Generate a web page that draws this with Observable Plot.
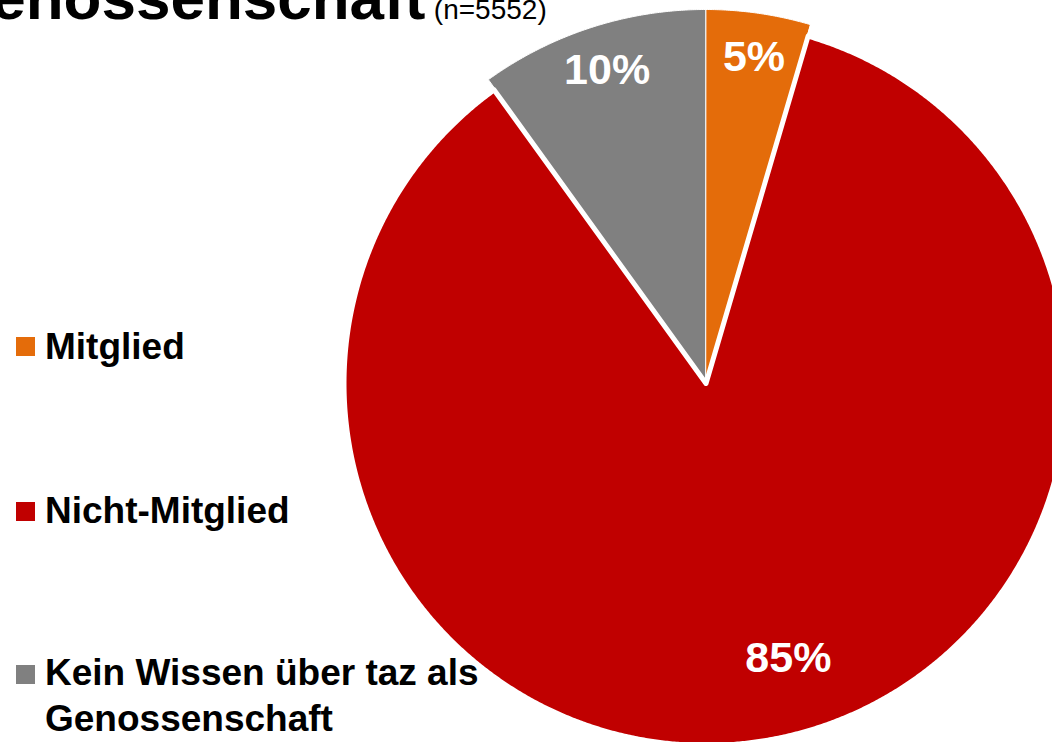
<!DOCTYPE html>
<html>
<head>
<meta charset="utf-8">
<script src="https://cdn.jsdelivr.net/npm/d3@7"></script>
<script src="https://cdn.jsdelivr.net/npm/@observablehq/plot@0.6"></script>
<style>
  html, body { margin: 0; padding: 0; background: #fff; overflow: hidden; }
  body { width: 1052px; height: 742px; position: relative; font-family: "Liberation Sans", Arial, sans-serif; }
  #chart { position: absolute; left: 0; top: 0; }
  #title { position: absolute; left: -57px; top: -33px; white-space: nowrap; line-height: 62px; color: #000; }
  #title .big { font-size: 62px; font-weight: bold; }
  #title .small { font-size: 28px; font-weight: normal; margin-left: 4px; }
  .leg { position: absolute; left: 45px; font-size: 37px; font-weight: bold; line-height: 46px; color: #000; white-space: nowrap; }
  .sw { position: absolute; left: 16px; width: 19px; height: 19px; }
</style>
</head>
<body>
<div id="chart"></div>
<div id="title"><span class="big">Genossenschaft</span> <span class="small">(n=5552)</span></div>
<div id="legend"></div>
<script>
// ---- data ----
const categories = ["Mitglied", "Nicht-Mitglied", "Kein Wissen über taz als Genossenschaft"];
const legendLines = [["Mitglied"], ["Nicht-Mitglied"], ["Kein Wissen über taz als", "Genossenschaft"]];
const shares = [4.55, 85.5, 9.95];
const pctLabels = ["5%", "85%", "10%"];
const colors = ["#E46C0A", "#C00000", "#808080"];

// ---- layout ----
const W = 1052, H = 742;
const cx = 705, cy = 380, R = 371;          // outer radius of small slices (px)
const redR = 362 / R;                       // main slice slightly smaller
const redShift = 3 / R;                     // main slice slightly exploded

const arcs = d3.pie().sort(null).value(d => d)(shares);

function slicePoints(a, i) {
  const r = i === 1 ? redR : 1;
  const mid = (a.startAngle + a.endAngle) / 2;
  const ox = i === 1 ? redShift * Math.sin(mid) : 0;
  const oy = i === 1 ? redShift * Math.cos(mid) : 0;
  const n = Math.max(4, Math.ceil((a.endAngle - a.startAngle) / 0.005));
  const pts = [{x: ox, y: oy, cat: categories[i]}];
  for (let k = 0; k <= n; k++) {
    const t = a.startAngle + (a.endAngle - a.startAngle) * k / n;
    pts.push({x: ox + r * Math.sin(t), y: oy + r * Math.cos(t), cat: categories[i]});
  }
  return pts;
}

const labelData = arcs.map((a, i) => {
  const mid = (a.startAngle + a.endAngle) / 2;
  const f = i === 1 ? 0.78 : 0.88;
  return {x: f * Math.sin(mid), y: f * Math.cos(mid), label: pctLabels[i], i};
});

const smallMarks = [0, 2].map(i => Plot.line(slicePoints(arcs[i], i), {
  x: "x", y: "y", curve: "linear-closed", fill: colors[i], stroke: "white", strokeWidth: 1
}));
const redMark = Plot.line(slicePoints(arcs[1], 1), {
  x: "x", y: "y", curve: "linear-closed", fill: colors[1], stroke: "white", strokeWidth: 5, strokeLinejoin: "round"
});

const textOpts = {
  x: "x", y: "y", text: "label", fill: "white", fontSize: 43, fontWeight: "bold",
  fontFamily: "Liberation Sans, Arial, sans-serif"
};

const chart = Plot.plot({
  width: W, height: H,
  marginTop: 0, marginRight: 0, marginBottom: 0, marginLeft: 0,
  x: {domain: [-1, 1], range: [cx - R, cx + R], axis: null},
  y: {domain: [-1, 1], range: [cy + R, cy - R], axis: null},
  style: {background: "white", overflow: "hidden"},
  marks: [
    ...smallMarks,
    redMark,
    Plot.text(labelData.filter(d => d.i !== 1), {...textOpts, dx: 2}),
    Plot.text(labelData.filter(d => d.i === 1), {...textOpts, dx: 34, dy: -7})
  ]
});
document.getElementById("chart").appendChild(chart);

// ---- legend (HTML) ----
const legendTops = [323.5, 487.5, 649.5];
const swatchTops = [337, 502, 665];
const legend = document.getElementById("legend");
categories.forEach((c, i) => {
  const sw = document.createElement("div");
  sw.className = "sw";
  sw.style.top = swatchTops[i] + "px";
  sw.style.background = colors[i];
  legend.appendChild(sw);
  const t = document.createElement("div");
  t.className = "leg";
  t.style.top = legendTops[i] + "px";
  t.innerHTML = legendLines[i].join("<br>");
  legend.appendChild(t);
});
</script>
</body>
</html>
